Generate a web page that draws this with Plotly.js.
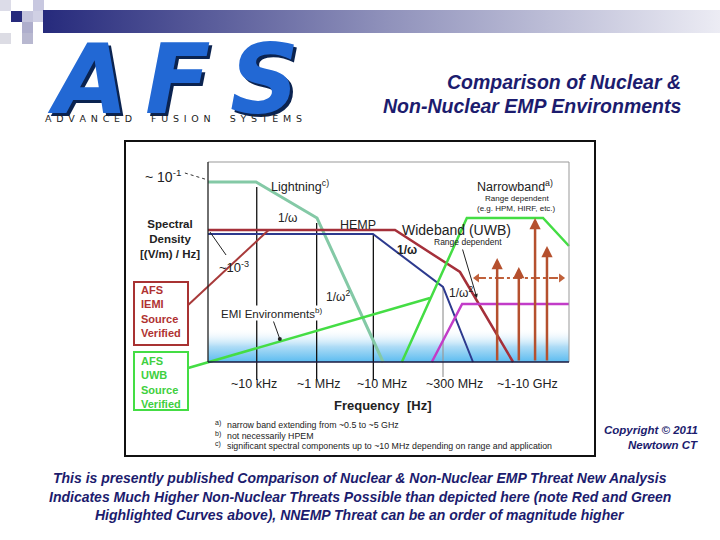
<!DOCTYPE html>
<html><head><meta charset="utf-8">
<script src="https://cdn.plot.ly/plotly-3.0.1.min.js"></script>
<style>html,body{margin:0;padding:0;background:#fff;}#chart{width:720px;height:540px;}</style>
</head><body><div id="chart"></div>
<script>
// Schematic units: x 0..100 spans the plot frame (frequency), y 0..100 spans spectral density
const lightningX = [0, 13.3, 30.2, 48.5];
const lightningY = [90, 90, 72, 0];
const hempX = [0, 51.8, 69.8, 84.5];
const hempY = [66, 66, 45, 0];
const hempLowX = [0, 45.7, 65.1, 73.4];
const hempLowY = [64, 64, 37.5, 0];
const afsIemiX = [-5.5, 16.8];
const afsIemiY = [28.5, 66];
const afsUwbX = [-5.5, 61.5];
const afsUwbY = [-3, 32];
const widebandX = [53.7, 71.7, 92.8, 100];
const widebandY = [0, 72, 72, 58];
const uwbHighX = [62, 70.4, 100];
const uwbHighY = [0, 29, 29];
const narrowbandX = [80.1, 86.1, 90.6, 93.9];
const narrowbandTop = [52, 47.5, 72, 58];
const rangeX = [74.5, 97.8];
const rangeY = [42, 42];
const tickX = [13.5, 30.1, 45.8, 65.1];
const tickTop = [87.5, 69.5, 63.5, 37.5];
const tickLabels = ['~10 kHz', '~1 MHz', '~10 MHz', '~300 MHz', '~1-10 GHz'];
const tickLabelX = [12.7, 30.7, 48.2, 68.4, 88.6];

const FONT = 'Liberation Sans, Arial, sans-serif';
const NAVY = '#1c1c6e';
const P = x => x / 720;
const Q = y => 1 - y / 540;

function ann(text, px, py, o) {
  o = o || {};
  return Object.assign({
    xref: 'paper', yref: 'paper', x: P(px), y: Q(py), text: text, showarrow: false,
    xanchor: 'center', yanchor: 'middle',
    font: Object.assign({family: FONT, size: 12, color: '#222'}, o.font || {})
  }, o.extra || {});
}
function rectP(x0, y0, x1, y1, fill, line) {
  return {type: 'rect', xref: 'paper', yref: 'paper', x0: P(x0), x1: P(x1), y0: Q(y0), y1: Q(y1),
    fillcolor: fill || 'rgba(0,0,0,0)', line: line || {width: 0}, layer: 'below'};
}
function lineD(x0, y0, x1, y1, color, width, dash) {
  return {type: 'line', xref: 'x', yref: 'y', x0: x0, y0: y0, x1: x1, y1: y1,
    line: {color: color, width: width, dash: dash || 'solid'}};
}

const traces = [];
// bottom blue glow in plot
traces.push({x: [0, 100, 100, 0, 0], y: [0, 0, 17, 17, 0], mode: 'lines', fill: 'toself',
  line: {width: 0}, hoverinfo: 'skip', showlegend: false,
  fillgradient: {type: 'vertical', colorscale: [[0, '#5cbcf0'], [0.45, '#aedcf6'], [1, 'rgba(255,255,255,0)']]}});
// tick drop lines
const tx = [], ty = [];
for (let i = 0; i < 3; i++) { tx.push(tickX[i], tickX[i], null); ty.push(tickTop[i], -9, null); }
traces.push({x: tx, y: ty, mode: 'lines', line: {color: '#111', width: 1.3}, hoverinfo: 'skip', showlegend: false});
traces.push({x: [tickX[3], tickX[3]], y: [tickTop[3], -7.5], mode: 'lines', line: {color: '#999', width: 1.2}, hoverinfo: 'skip', showlegend: false});

function curve(x, y, color, width) {
  return {x: x, y: y, mode: 'lines', line: {color: color, width: width}, hoverinfo: 'skip', showlegend: false};
}
traces.push(curve(lightningX, lightningY, '#84c9a6', 3));
traces.push(curve(hempLowX, hempLowY, '#2d3a8e', 2));
traces.push(curve(hempX, hempY, '#a5303a', 2.5));
traces.push(curve(afsIemiX, afsIemiY, '#a83a3a', 2));
traces.push(curve(afsUwbX, afsUwbY, '#44dd44', 2.5));
traces.push(curve(widebandX, widebandY, '#44dd44', 2.5));
traces.push(curve(uwbHighX, uwbHighY, '#c23cc8', 2.5));
traces.push({x: rangeX, y: rangeY, mode: 'lines+markers', line: {color: '#c0603a', width: 2, dash: 'dashdot'},
  marker: {symbol: ['triangle-left', 'triangle-right'], size: 8, color: '#c0603a'}, hoverinfo: 'skip', showlegend: false});

// header gradient bar (page coordinates axis)
traces.push({x: [43, 720, 720, 43, 43], y: [10, 10, 33, 33, 10], xaxis: 'x2', yaxis: 'y2', mode: 'lines', fill: 'toself',
  line: {width: 0}, hoverinfo: 'skip', showlegend: false,
  fillgradient: {type: 'horizontal', colorscale: [[0, '#262a7c'], [0.5, '#8e90ba'], [1, '#ececf4']]}});

const annotations = [];
// narrowband arrows
narrowbandX.forEach((x, i) => {
  annotations.push({xref: 'x', yref: 'y', axref: 'x', ayref: 'y', x: x, y: narrowbandTop[i], ax: x, ay: 0,
    text: '', showarrow: true, arrowhead: 2, arrowsize: 0.9, arrowwidth: 2.5, arrowcolor: '#b5502e', standoff: 0, startstandoff: 0});
});
// wideband range-dependent leader
annotations.push({xref: 'x', yref: 'y', axref: 'x', ayref: 'y', x: 74.5, y: 32, ax: 70.4, ay: 57,
  text: '', showarrow: true, arrowhead: 2, arrowsize: 0.8, arrowwidth: 1, arrowcolor: '#222'});
// EMI environments leader
annotations.push({xref: 'x', yref: 'y', axref: 'x', ayref: 'y', x: 19.9, y: 11.5, ax: 18, ay: 21,
  text: '', showarrow: true, arrowhead: 6, arrowsize: 1, arrowwidth: 1, arrowcolor: '#222'});

// tick labels
tickLabels.forEach((t, i) => {
  annotations.push({xref: 'x', yref: 'paper', x: tickLabelX[i], y: Q(384), text: t, showarrow: false,
    xanchor: 'center', yanchor: 'middle', font: {family: FONT, size: 12.5, color: '#222'}});
});
annotations.push(ann('Frequency  [Hz]', 383, 405, {font: {size: 13, weight: 'bold'}}));

// in-chart labels
annotations.push(ann('~ 10<sup>-1</sup>', 163, 176, {font: {size: 14}}));
annotations.push(ann('Lightning<sup>c)</sup>', 300, 186, {font: {size: 12.5}}));
annotations.push(ann('1/ω', 287, 218, {font: {size: 12}}));
annotations.push(ann('HEMP', 358, 225, {font: {size: 12.5}}));
annotations.push(ann('Spectral<br>Density<br>[(V/m) / Hz]', 170, 239, {font: {size: 11.5, weight: 'bold'}}));
annotations.push(ann('~10<sup>-3</sup>', 234, 267, {font: {size: 13}}));
annotations.push(ann('1/ω<sup>2</sup>', 338, 296, {font: {size: 12}}));
annotations.push(ann('EMI Environments<sup>b)</sup>', 271, 313, {font: {size: 11.5}, extra: {bgcolor: 'white', borderpad: 0}}));
annotations.push(ann('Wideband (UWB)', 456, 230, {font: {size: 14}}));
annotations.push(ann('Range dependent', 468, 242, {font: {size: 8.5}}));
annotations.push(ann('1/ω', 407, 250, {font: {size: 12, weight: 'bold'}}));
annotations.push(ann('1/ω<sup>2</sup>', 461, 292, {font: {size: 12}}));
annotations.push(ann('Narrowband<sup>a)</sup>', 515, 186, {font: {size: 12.5}}));
annotations.push(ann('Range dependent', 517, 198, {font: {size: 8}}));
annotations.push(ann('(e.g. HPM, HIRF, etc.)', 516, 208, {font: {size: 8}}));

// footnotes
const fn = [['a)', 'narrow band extending from ~0.5 to ~5 GHz', 425], ['b)', 'not necessarily HPEM', 436],
  ['c)', 'significant spectral components up to ~10 MHz depending on range and application', 446]];
fn.forEach(f => {
  annotations.push(ann(f[0], 213, f[2] - 2, {font: {size: 7}, extra: {xanchor: 'left'}}));
  annotations.push(ann(f[1], 225, f[2], {font: {size: 8.8}, extra: {xanchor: 'left'}}));
});

// AFS boxes text
annotations.push(ann('AFS<br>IEMI<br>Source<br>Verified', 139, 311, {font: {size: 11, weight: 'bold', color: '#b03232'}, extra: {xanchor: 'left', align: 'left'}}));
annotations.push(ann('AFS<br>UWB<br>Source<br>Verified', 139, 382, {font: {size: 11, weight: 'bold', color: '#40d040'}, extra: {xanchor: 'left', align: 'left'}}));

// header title
annotations.push(ann('Comparison of Nuclear &', 683, 82, {font: {size: 19.5, weight: 'bold', style: 'italic', color: NAVY}, extra: {xanchor: 'right'}}));
annotations.push(ann('Non-Nuclear EMP Environments', 683, 106, {font: {size: 19.5, weight: 'bold', style: 'italic', color: NAVY}, extra: {xanchor: 'right'}}));

// logo
const logoFont = {family: 'DejaVu Sans, sans-serif', size: 96, weight: 'bold', style: 'italic', color: '#2268d4', shadow: '3px 3px 0px #0b2350'};
annotations.push(ann('A', 87, 80, {font: logoFont}));
annotations.push(ann('F', 178, 80, {font: logoFont}));
annotations.push(ann('S', 264, 80, {font: logoFont}));
const sp = '\u2002';
const brand = ['ADVANCED', 'FUSION', 'SYSTEMS'].map(w => w.split('').join(sp)).join(sp + '\u2003' + sp);
annotations.push(ann(brand, 173, 119, {font: {family: 'DejaVu Sans, sans-serif', size: 9.5, color: '#222'}}));

// copyright
annotations.push(ann('Copyright © 2011', 700, 430, {font: {size: 11.5, weight: 'bold', style: 'italic', color: NAVY}, extra: {xanchor: 'right'}}));
annotations.push(ann('Newtown CT', 700, 445, {font: {size: 11.5, weight: 'bold', style: 'italic', color: NAVY}, extra: {xanchor: 'right'}}));

// bottom text
const bottom = ['This is presently published Comparison of Nuclear & Non-Nuclear EMP Threat New Analysis',
  'Indicates Much Higher Non-Nuclear Threats Possible than depicted here (note Red and Green',
  'Highlighted Curves above), NNEMP Threat can be an order of magnitude higher'];
[478, 497, 515].forEach((y, i) => annotations.push(ann(bottom[i], 360, y, {font: {size: 14, weight: 'bold', style: 'italic', color: NAVY}})));

const shapes = [];
// header squares
[[0, 0, 11, 11, '#dcdce8'], [11, 11, 22, 22, '#262a7c'], [22, 11, 33, 22, '#c4c4dc'], [33, 0, 44, 11, '#c8c8e0'],
 [33, 11, 44, 22, '#d0d0e4'], [22, 22, 33, 33, '#aeaecc'], [0, 33, 11, 44, '#dcdce4'], [22, 33, 33, 44, '#b8b8d0']]
  .forEach(s => shapes.push(rectP(s[0], s[1], s[2], s[3], s[4])));
// outer chart box
shapes.push({type: 'rect', xref: 'paper', yref: 'paper', x0: P(125), x1: P(595), y0: Q(456), y1: Q(141),
  line: {color: '#111', width: 2}, fillcolor: 'rgba(0,0,0,0)', layer: 'above'});
// plot frame
shapes.push(lineD(0, 100, 100, 100, '#999', 1));
shapes.push(lineD(100, 0, 100, 100, '#999', 1));
shapes.push(lineD(0, 0, 0, 100, '#222', 1.3));
shapes.push(lineD(0, 0, 100, 0, '#1a1a40', 1.6));
// leaders
shapes.push(lineD(-6.4, 94.5, 0, 91, '#333', 1, 'dot'));
shapes.push(lineD(0.55, 65, 5, 53.5, '#222', 1));
// AFS boxes
shapes.push({type: 'rect', xref: 'paper', yref: 'paper', x0: P(134), x1: P(188), y0: Q(345), y1: Q(282),
  line: {color: '#a83232', width: 2}, fillcolor: 'white', layer: 'above'});
shapes.push({type: 'rect', xref: 'paper', yref: 'paper', x0: P(134), x1: P(188), y0: Q(410), y1: Q(352),
  line: {color: '#44dd44', width: 2}, fillcolor: 'white', layer: 'above'});

const layout = {
  width: 720, height: 540, margin: {l: 0, r: 0, t: 0, b: 0},
  paper_bgcolor: 'white', plot_bgcolor: 'rgba(0,0,0,0)', showlegend: false,
  xaxis: {domain: [125 / 720, 595 / 720], range: [(125 - 208) / 3.61, (595 - 208) / 3.61], visible: false, fixedrange: true},
  yaxis: {domain: [1 - 456 / 540, 1 - 141 / 540], range: [(362 - 456) / 2, (362 - 141) / 2], visible: false, fixedrange: true},
  xaxis2: {domain: [0, 1], range: [0, 720], visible: false, anchor: 'y2', fixedrange: true},
  yaxis2: {domain: [0, 1], range: [540, 0], visible: false, anchor: 'x2', fixedrange: true},
  shapes: shapes, annotations: annotations
};
Plotly.newPlot('chart', traces, layout, {staticPlot: true, displayModeBar: false});
</script></body></html>
